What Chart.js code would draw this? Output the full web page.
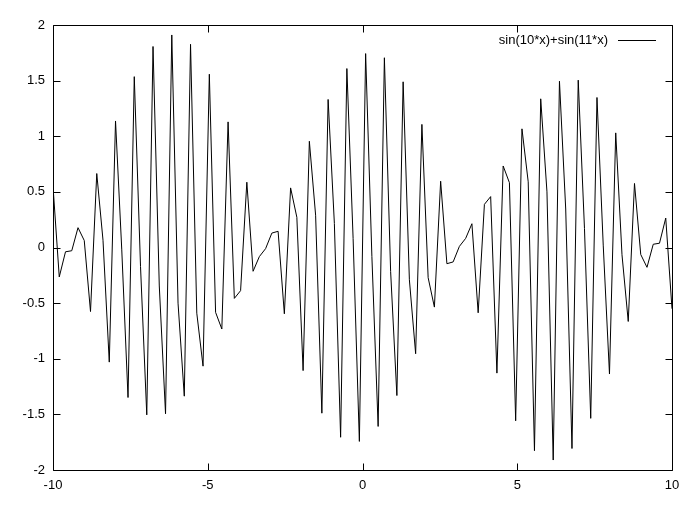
<!DOCTYPE html>
<html>
<head>
<meta charset="utf-8">
<script src="https://cdn.jsdelivr.net/npm/chart.js@4/dist/chart.umd.min.js"></script>
<style>
  html, body { margin: 0; padding: 0; background: #fff; }
  #c { display: block; }
</style>
</head>
<body>
<canvas id="c" width="692" height="510" style="width:692px;height:510px"></canvas>
<script>
// Sample positions (100 samples from -10 to 10)
const xValues = [
  -10, -9.798, -9.596, -9.394, -9.192, -8.990, -8.788, -8.586, -8.384, -8.182,
  -7.980, -7.778, -7.576, -7.374, -7.172, -6.970, -6.768, -6.566, -6.364, -6.162,
  -5.960, -5.758, -5.556, -5.354, -5.152, -4.949, -4.747, -4.545, -4.343, -4.141,
  -3.939, -3.737, -3.535, -3.333, -3.131, -2.929, -2.727, -2.525, -2.323, -2.121,
  -1.919, -1.717, -1.515, -1.313, -1.111, -0.909, -0.707, -0.505, -0.303, -0.101,
  0.101, 0.303, 0.505, 0.707, 0.909, 1.111, 1.313, 1.515, 1.717, 1.919,
  2.121, 2.323, 2.525, 2.727, 2.929, 3.131, 3.333, 3.535, 3.737, 3.939,
  4.141, 4.343, 4.545, 4.747, 4.949, 5.152, 5.354, 5.556, 5.758, 5.960,
  6.162, 6.364, 6.566, 6.768, 6.970, 7.172, 7.374, 7.576, 7.778, 7.980,
  8.182, 8.384, 8.586, 8.788, 8.990, 9.192, 9.394, 9.596, 9.798, 10
];
// Series values: sin(10*x)+sin(11*x)
const yValues = [
  0.5506, -0.2646, -0.0384, -0.0292, 0.1782, 0.0628, -0.5757, 0.6648, 0.0653, -1.0303,
  1.1373, -0.0216, -1.3484, 1.5358, -0.1716, -1.5043, 1.8068, -0.3460, -1.4944, 1.9105,
  -0.5000, -1.3365, 1.8265, -0.5904, -1.0666, 1.5576, -0.5827, -0.7328, 1.1292, -0.4575,
  -0.3880, 0.5868, -0.2137, -0.0820, -0.0102, 0.1296, 0.1457, -0.5959, 0.5358, 0.2714,
  -1.1065, 0.9549, 0.2903, -1.4894, 1.3307, 0.2163, -1.7057, 1.6085, 0.0795, -1.7431,
  1.7431, -0.0795, -1.6085, 1.7057, -0.2163, -1.3307, 1.4894, -0.2903, -0.9549, 1.1065,
  -0.2714, -0.5358, 0.5959, -0.1457, -0.1296, 0.0102, 0.0820, 0.2137, -0.5868, 0.3880,
  0.4575, -1.1292, 0.7328, 0.5827, -1.5576, 1.0666, 0.5904, -1.8265, 1.3365, 0.5000,
  -1.9105, 1.4944, 0.3460, -1.8068, 1.5043, 0.1716, -1.5358, 1.3484, 0.0216, -1.1373,
  1.0303, -0.0653, -0.6648, 0.5757, -0.0628, -0.1782, 0.0292, 0.0384, 0.2646, -0.5506
];
const seriesLabel = 'sin(10*x)+sin(11*x)';
const xTicks = [-10, -5, 0, 5, 10];
const yTicks = [-2, -1.5, -1, -0.5, 0, 0.5, 1, 1.5, 2];

const FONT = '"Liberation Sans", Arial, Helvetica, sans-serif';

const framePlugin = {
  id: 'gnuFrame',
  afterDraw(chart) {
    const ctx = chart.ctx;
    const a = chart.chartArea;
    const xs = chart.scales.x, ys = chart.scales.y;
    const L = Math.round(a.left) + 0.5, R = Math.round(a.right) + 0.5;
    const T = Math.round(a.top) + 0.5, B = Math.round(a.bottom) + 0.5;
    const tl = 7;
    ctx.save();
    ctx.strokeStyle = '#000';
    ctx.lineWidth = 1;
    ctx.beginPath();
    ctx.rect(L, T, R - L, B - T);
    ctx.stroke();
    ctx.beginPath();
    xTicks.forEach(v => {
      const px = Math.round(xs.getPixelForValue(v)) + 0.5;
      ctx.moveTo(px, B); ctx.lineTo(px, B - tl);
      ctx.moveTo(px, T); ctx.lineTo(px, T + tl);
    });
    yTicks.forEach(v => {
      const py = Math.round(ys.getPixelForValue(v)) + 0.5;
      ctx.moveTo(L, py); ctx.lineTo(L + tl, py);
      ctx.moveTo(R, py); ctx.lineTo(R - tl, py);
    });
    ctx.stroke();
    // legend (gnuplot style: text, then line sample)
    const ds = chart.data.datasets[0];
    ctx.font = '13px ' + FONT;
    ctx.fillStyle = '#000';
    ctx.textAlign = 'right';
    ctx.textBaseline = 'middle';
    ctx.fillText(ds.label, 608, 40);
    ctx.beginPath();
    ctx.moveTo(618, 40.5); ctx.lineTo(656, 40.5);
    ctx.stroke();
    ctx.restore();
  }
};

new Chart(document.getElementById('c'), {
  type: 'line',
  data: {
    datasets: [{
      label: seriesLabel,
      data: xValues.map((x, i) => ({ x: x, y: yValues[i] })),
      borderColor: '#000',
      borderWidth: 1,
      pointRadius: 0,
      tension: 0,
      fill: false
    }]
  },
  options: {
    responsive: false,
    devicePixelRatio: 1,
    animation: false,
    layout: { padding: { top: 25, right: 20, left: 0, bottom: 0 } },
    plugins: { legend: { display: false }, tooltip: { enabled: false } },
    scales: {
      x: {
        type: 'linear',
        min: -10, max: 10,
        afterBuildTicks(s) { s.ticks = xTicks.map(v => ({ value: v })); },
        afterFit(s) { s.height = 40; },
        grid: { display: false, drawTicks: false },
        border: { display: false },
        ticks: {
          color: '#000',
          padding: 8,
          maxRotation: 0,
          font: { family: FONT, size: 13 },
          callback: v => String(v)
        }
      },
      y: {
        type: 'linear',
        min: -2, max: 2,
        afterBuildTicks(s) { s.ticks = yTicks.map(v => ({ value: v })); },
        afterFit(s) { s.width = 53; },
        grid: { display: false, drawTicks: false },
        border: { display: false },
        ticks: {
          color: '#000',
          padding: 8,
          font: { family: FONT, size: 13 },
          callback: v => String(v)
        }
      }
    }
  },
  plugins: [framePlugin]
});
</script>
</body>
</html>
